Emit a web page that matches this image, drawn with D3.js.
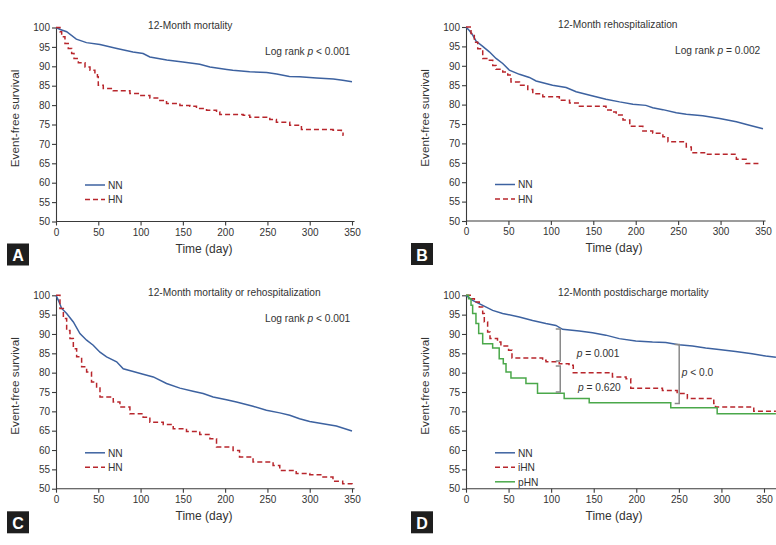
<!DOCTYPE html>
<html>
<head>
<meta charset="utf-8">
<script src="https://cdn.jsdelivr.net/npm/d3@7"></script>
<style>
  html, body { margin: 0; padding: 0; background: #fff; }
  svg { display: block; font-family: "Liberation Sans", Arial, sans-serif; }
  .axis path, .axis line { stroke: #3a3a3a; stroke-width: 1.1; }
  .axis text { fill: #333; font-size: 10px; font-family: "Liberation Sans", Arial, sans-serif; }
  .lbl { fill: #333; }
</style>
</head>
<body>
<svg id="chart" width="776" height="545"></svg>
<script>
/* ---- shared ticks ---- */
const xTicks = [0, 50, 100, 150, 200, 250, 300, 350];
const yTicks = [50, 55, 60, 65, 70, 75, 80, 85, 90, 95, 100];

/* ---- A: 12-month mortality ---- */
const mortNN = [[0,100],[5,99.5],[12.6,98.9],[24,97],[36,96.1],[52,95.6],[72,94.6],[91,93.7],[103,93.3],
  [111,92.4],[131,91.6],[150,91.1],[170,90.5],[182,89.8],[202,89.2],[209,89],[229,88.6],[249,88.4],
  [261,88],[276,87.4],[288,87.3],[308,87],[328,86.7],[339,86.4],[350,86]];
const mortHN = [[0,100],[4.7,98.9],[6.7,97.6],[10.6,95.9],[14.5,94.6],[18.5,93.3],[21.3,92],[26.4,90.9],
  [34.3,89.8],[40.2,89],[46,88],[49,87.3],[50,85.1],[55.9,84.3],[67.7,83.7],[87.4,83],[99.2,82.5],
  [111,81.8],[122.8,81.2],[130.7,80.4],[146.5,79.9],[158.3,79.7],[166.1,79.1],[178,78.7],[189.8,78.2],
  [193.7,77.6],[221.3,77.4],[229.1,76.9],[252.8,76.3],[260.6,75.6],[276.4,74.8],[290.2,73.7],
  [327.6,73.5],[337.4,73.1],[339.4,72.2],[340,72.2]];

/* ---- B: 12-month rehospitalization ---- */
const rehoNN = [[0,100],[3.9,99.1],[7.9,97.9],[11.8,96.4],[19.7,95],[27.5,93.6],[35.4,91.9],[43.3,90.6],
  [51,88.9],[63,87.8],[74.7,87],[82.6,86.1],[102,85],[118,84.4],[129.8,83.3],[149.5,82.2],[165,81.4],
  [181,80.7],[196.7,80.1],[212,79.8],[220,79.2],[232,78.7],[247.8,77.9],[259.6,77.5],[279,77.1],
  [299,76.4],[318.6,75.6],[334,74.7],[350,73.8]];
const rehoHN = [[0,100],[5.9,98.3],[9.8,96.1],[13.8,94.4],[19.7,91.9],[25.6,91.4],[31.5,90.1],[35.4,89.1],
  [43.3,88.4],[49.2,87.6],[53,85.8],[63,85],[72.8,83.9],[78.7,82.8],[90.5,82],[110,81.1],[122,80.4],
  [133.7,79.6],[165,78.6],[171,78.1],[177,77.3],[185,76],[193,74.4],[208.4,73.2],[220,72.6],[232,71.7],
  [238,70.4],[259.6,69.1],[265.5,67.6],[283,67.2],[318.6,65.9],[330,64.8],[348,64.8]];

/* ---- C: 12-month mortality or rehospitalization ---- */
const bothNN = [[0,100],[2.8,98.7],[6.7,96.6],[12.6,95.3],[20.5,93.1],[28.3,90.1],[36.2,88.4],[44,87.1],
  [52,85.3],[59.8,84.1],[71.7,82.8],[79.5,81],[91.3,80.3],[103,79.6],[115,78.9],[130.7,77.2],[146.5,76],
  [162,75.2],[174,74.6],[185.8,73.7],[201.6,73],[213.4,72.4],[233,71.3],[248.8,70.3],[264.6,69.6],
  [276.4,69],[288,68.1],[300,67.4],[315.7,66.8],[331.5,66.2],[350,64.9]];
const bothHN = [[0,100],[4.7,96.6],[8.7,94],[12.6,90.9],[16.5,88.8],[20.5,86.2],[24.4,84.1],[30.3,81.5],
  [36.2,80.2],[42,77.6],[48,76.3],[52,73.7],[67.7,72.4],[75.6,71.1],[87.4,69.4],[103,68.5],[111,67.2],
  [126.8,66.6],[138.6,65.5],[154.3,64.8],[170,64],[182,62.9],[189.8,60.8],[209.4,59.9],[217,58.2],
  [233,56.9],[256.7,56],[264.6,54.7],[284,53.9],[300,53.6],[315.7,53],[327.5,51.9],[339,51.3],[350,51]];

/* ---- D: 12-month postdischarge mortality ---- */
const postNN = [[0,100],[7.8,98.7],[19.6,97.4],[31.3,96.1],[43,95.3],[62.6,94.4],[78.2,93.5],[93.8,92.7],
  [105.6,92.2],[113.4,91.2],[133,90.8],[148.6,90.3],[164.2,89.7],[180,88.8],[199.4,88.2],[219,87.9],
  [234.6,87.8],[250,87.2],[266,86.9],[281.5,86.4],[297,86],[316.7,85.5],[336,84.9],[352,84.3],[364,84]];
const postIHN = [[0,100],[5.9,99.1],[9.8,98.3],[15.6,97],[19.6,95.3],[21.5,93.1],[25.4,90.5],[28.2,88.8],
  [37,87.9],[41,86.9],[50,85.8],[54,83.8],[90,83.2],[94,82.8],[109.5,82.3],[121,81.9],[126,80],
  [172,78.9],[188,78.4],[193.5,76],[230.7,75.4],[248,74.6],[260,73.3],[291,72],[293,71.1],[338,70],[364,70]];
const postPHN = [[0,100],[3,99.1],[5.9,97.4],[7.8,95.3],[11.7,92.7],[14.9,90.1],[19.6,87.5],[31.3,86.4],
  [39,83.6],[43.8,82.3],[47,80.2],[52.8,78.6],[70.4,77.2],[84,74.7],[115.3,73.3],[144.7,72.2],
  [240.5,70.9],[295,69.4],[364,69.4]];

/* ---- D comparison brackets and their p values ---- */
const brackets = [[110.7, 91.3, 83], [110.7, 81.7, 75], [250.4, 87.3, 72]];
const pNotes = [[130, 84.05, "= 0.001"], [131.5, 75.3, "= 0.620"], [253.5, 79.1, "< 0.0"]];

const colors = { NN: "#3d62a0", HN: "#b8262c", pHN: "#4aa84a" };

const panels = [
  { tag: "A", title: "12-Month mortality", note: "< 0.001", left: 56, top: 27.5, w: 296, h: 194, xMax: 353,
    series: [{ name: "NN", data: mortNN, color: colors.NN, dash: null, step: false },
             { name: "HN", data: mortHN, color: colors.HN, dash: "5,3", step: true }] },
  { tag: "B", title: "12-Month rehospitalization", note: "= 0.002", left: 466, top: 27, w: 297, h: 194, xMax: 353,
    series: [{ name: "NN", data: rehoNN, color: colors.NN, dash: null, step: false },
             { name: "HN", data: rehoHN, color: colors.HN, dash: "5,3", step: true }] },
  { tag: "C", title: "12-Month mortality or rehospitalization", note: "< 0.001", left: 56, top: 295.3, w: 296, h: 193.4, xMax: 353,
    series: [{ name: "NN", data: bothNN, color: colors.NN, dash: null, step: false },
             { name: "HN", data: bothHN, color: colors.HN, dash: "5,3", step: true }] },
  { tag: "D", title: "12-Month postdischarge mortality", note: null, left: 466, top: 295.3, w: 298, h: 193.4, xMax: 370,
    series: [{ name: "NN", data: postNN, color: colors.NN, dash: null, step: false },
             { name: "iHN", data: postIHN, color: colors.HN, dash: "5,3", step: true },
             { name: "pHN", data: postPHN, color: colors.pHN, dash: null, step: true }] }
];

const svg = d3.select("#chart");

panels.forEach(p => {
  const g = svg.append("g").attr("transform", `translate(${p.left},${p.top})`);
  const x = d3.scaleLinear().domain([0, 350]).range([0, p.w]);
  const y = d3.scaleLinear().domain([50, 100]).range([p.h, 0]);

  /* ── axes ───────────────────────────── */
  const xAxis = g.append("g").attr("class", "axis")
    .attr("transform", `translate(0,${p.h})`)
    .call(d3.axisBottom(x).tickValues(xTicks).tickSize(4).tickPadding(3).tickSizeOuter(0));
  xAxis.select(".domain").attr("d", `M0,0H${x(p.xMax)}`);

  g.append("g").attr("class", "axis")
    .call(d3.axisLeft(y).tickValues(yTicks).tickSize(4).tickPadding(2).tickSizeOuter(0));

  /* ── curves ─────────────────────────── */
  p.series.forEach(s => {
    const line = d3.line()
      .x(d => x(d[0])).y(d => y(d[1]))
      .curve(s.step ? d3.curveStepAfter : d3.curveLinear);
    g.append("path").datum(s.data)
      .attr("d", line)
      .attr("fill", "none")
      .attr("stroke", s.color)
      .attr("stroke-width", 1.5)
      .attr("stroke-dasharray", s.dash);
  });

  /* ── titles ─────────────────────────── */
  g.append("text").attr("class", "lbl")
    .attr("x", 92).attr("y", 1)
    .style("font-size", "10.2px").text(p.title);

  if (p.note) {
    const t = g.append("text").attr("class", "lbl")
      .attr("x", 209).attr("y", 27).style("font-size", "10.2px");
    t.append("tspan").text("Log rank ");
    t.append("tspan").style("font-style", "italic").text("p");
    t.append("tspan").text(" " + p.note);
  }

  g.append("text").attr("class", "lbl")
    .attr("x", 148).attr("y", p.h + 31)
    .attr("text-anchor", "middle")
    .style("font-size", "12px").text("Time (day)");

  g.append("text").attr("class", "lbl")
    .attr("transform", `translate(-37,${p.h / 2 - 6}) rotate(-90)`)
    .attr("text-anchor", "middle")
    .style("font-size", "11.8px").text("Event-free survival");

  /* ── legend ─────────────────────────── */
  p.series.forEach((s, i) => {
    const ly = 157.5 + i * 14.5;
    g.append("line")
      .attr("x1", 29).attr("x2", 49).attr("y1", ly).attr("y2", ly)
      .attr("stroke", s.color).attr("stroke-width", 1.5)
      .attr("stroke-dasharray", s.dash);
    g.append("text").attr("class", "lbl")
      .attr("x", 52).attr("y", ly + 3.8)
      .style("font-size", "10.2px").text(s.name);
  });

  /* ── panel letter ───────────────────── */
  const bx = p.left < 200 ? 7 : 411;
  svg.append("rect")
    .attr("x", bx).attr("y", p.top + 216)
    .attr("width", 22).attr("height", 22).attr("fill", "#1e1e1e");
  svg.append("text")
    .attr("x", bx + 11).attr("y", p.top + 233.5)
    .attr("text-anchor", "middle")
    .style("font-size", "16px").style("font-weight", "bold")
    .attr("fill", "#fff").text(p.tag);

  /* ── D brackets ─────────────────────── */
  if (p.tag === "D") {
    brackets.forEach(b => {
      const bxp = x(b[0]);
      g.append("path")
        .attr("d", `M${bxp - 4.5},${y(b[1])}H${bxp}V${y(b[2])}H${bxp - 4.5}`)
        .attr("fill", "none").attr("stroke", "#8a8a8a").attr("stroke-width", 1.5);
    });
    pNotes.forEach(n => {
      const t = g.append("text").attr("class", "lbl")
        .attr("x", x(n[0])).attr("y", y(n[1])).style("font-size", "10.2px");
      t.append("tspan").style("font-style", "italic").text("p");
      t.append("tspan").text(" " + n[2]);
    });
  }
});
</script>
</body>
</html>
